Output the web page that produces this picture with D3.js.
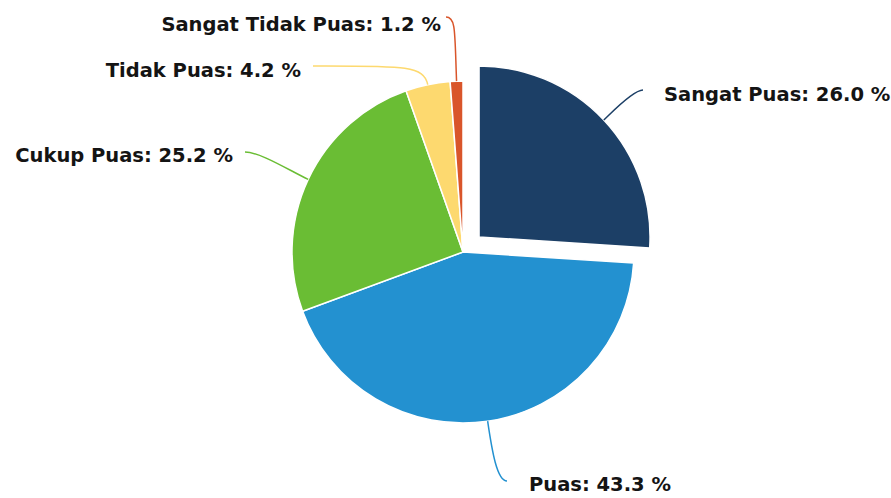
<!DOCTYPE html>
<html>
<head>
<meta charset="utf-8">
<script src="https://cdn.jsdelivr.net/npm/d3@7"></script>
<style>
  html, body { margin: 0; padding: 0; background: #fff; }
  svg { display: block; }
</style>
</head>
<body>
<svg id="chart" width="891" height="498"></svg>
<script>
// ---- data ----
const categories = ["Sangat Puas", "Puas", "Cukup Puas", "Tidak Puas", "Sangat Tidak Puas"];
const values = [26.0, 43.3, 25.2, 4.2, 1.2];
const colors = ["#1c3f66", "#2391d0", "#6abd34", "#fdd96f", "#d9552a"];
const sliced = [true, false, false, false, false];

// ---- layout (label placement, not data) ----
const labelLayout = [
  { tx: 664, ty: 101, anchor: "start", ax: 643, ay: 90,  k1: 10, k2: 10 },
  { tx: 529, ty: 491, anchor: "start", ax: 507, ay: 481, k1: 10, k2: 30 },
  { tx: 233, ty: 162, anchor: "end",   ax: 245, ay: 152, k1: 15, k2: 20 },
  { tx: 301, ty: 77,  anchor: "end",   ax: 313, ay: 66,  k1: 90, k2: 20 },
  { tx: 441, ty: 31,  anchor: "end",   ax: 446, ay: 17,  k1: 10, k2: 50 }
];

const W = 891, H = 498;
const cx = 463, cy = 252, R = 171, slicedOffset = 22;

const svg = d3.select("#chart");
const g = svg.append("g").attr("transform", `translate(${cx},${cy})`);

const pie = d3.pie().sort(null).value(d => d).startAngle(0).endAngle(2 * Math.PI);
const arcs = pie(values);
const arc = d3.arc().innerRadius(0).outerRadius(R);

function offsetOf(d, i) {
  if (!sliced[i]) return [0, 0];
  const a = (d.startAngle + d.endAngle) / 2;
  return [Math.sin(a) * slicedOffset, -Math.cos(a) * slicedOffset];
}

// slices
g.selectAll("path.slice")
  .data(arcs)
  .join("path")
  .attr("class", "slice")
  .attr("d", arc)
  .attr("transform", (d, i) => { const o = offsetOf(d, i); return `translate(${o[0]},${o[1]})`; })
  .attr("fill", (d, i) => colors[i])
  .attr("stroke", "#ffffff")
  .attr("stroke-width", 1.5)
  .attr("stroke-linejoin", "round");

// connectors
const conn = svg.append("g");
arcs.forEach((d, i) => {
  const L = labelLayout[i];
  const a = (d.startAngle + d.endAngle) / 2;
  const o = offsetOf(d, i);
  const dx = Math.sin(a), dy = -Math.cos(a);
  const ex = cx + o[0] + dx * R, ey = cy + o[1] + dy * R;
  const s = L.anchor === "end" ? 1 : -1;
  const p = d3.path();
  p.moveTo(L.ax, L.ay);
  p.bezierCurveTo(L.ax + s * L.k1, L.ay, ex + dx * L.k2, ey + dy * L.k2, ex, ey);
  conn.append("path")
    .attr("d", p.toString())
    .attr("fill", "none")
    .attr("stroke", colors[i])
    .attr("stroke-width", 1.5);
});

// labels
svg.append("g").selectAll("text")
  .data(arcs)
  .join("text")
  .attr("x", (d, i) => labelLayout[i].tx)
  .attr("y", (d, i) => labelLayout[i].ty)
  .attr("text-anchor", (d, i) => labelLayout[i].anchor)
  .attr("font-family", "DejaVu Sans, sans-serif")
  .attr("font-weight", "bold")
  .attr("font-size", "19.5px")
  .attr("fill", "#141414")
  .text((d, i) => `${categories[i]}: ${values[i].toFixed(1)} %`);
</script>
</body>
</html>
